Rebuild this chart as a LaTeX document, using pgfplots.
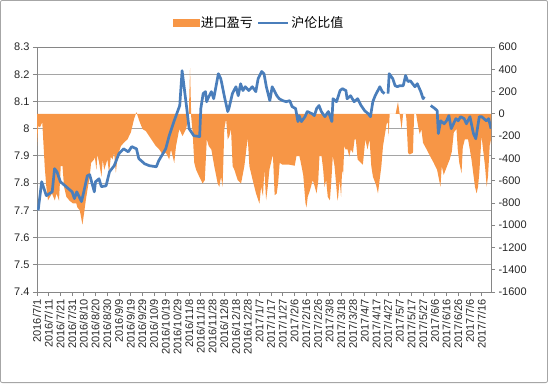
\documentclass[border=0pt]{standalone}
\usepackage{pgfplots}
\usepackage{pgfplotstable}
\pgfplotsset{compat=1.18}
\usepackage{fontspec}
\setmainfont{Liberation Sans}
\newfontfamily\cjk{Noto Sans CJK SC}
\definecolor{ora}{RGB}{247,150,70}
\definecolor{blu}{RGB}{74,126,187}
\definecolor{gridc}{RGB}{165,165,165}
\definecolor{axc}{RGB}{134,134,134}

\pgfplotstableread[row sep=\\]{
d v\\
1 7.700\\ 4 7.805\\ 8 7.754\\ 13 7.768\\ 15 7.853\\ 17 7.842\\ 20 7.805\\ 23 7.794\\ 27 7.779\\ 30 7.768\\
32 7.743\\ 34 7.768\\ 38 7.732\\ 40 7.768\\ 43 7.827\\ 45 7.831\\ 49 7.768\\ 50 7.805\\ 53 7.816\\ 55 7.787\\
59 7.790\\ 62 7.842\\ 66 7.864\\ 70 7.908\\ 74 7.926\\ 78 7.915\\ 81 7.934\\ 85 7.926\\ 87 7.890\\ 92 7.871\\
96 7.864\\ 102 7.860\\ 104 7.882\\ 110 7.926\\ 113 7.974\\ 117 8.026\\ 122 8.085\\ 124 8.213\\ 128 8.074\\ 130 8.000\\
134 7.974\\ 139 7.971\\ 140 8.074\\ 142 8.129\\ 144 8.136\\ 145 8.099\\ 146 8.110\\ 149 8.136\\ 151 8.110\\ 155 8.202\\
157 8.184\\ 158 8.165\\ 160 8.121\\ 163 8.063\\ 164 8.074\\ 167 8.129\\ 170 8.154\\ 172 8.121\\ 174 8.165\\ 176 8.140\\
178 8.154\\ 181 8.140\\ 184 8.154\\ 187 8.136\\ 189 8.184\\ 192 8.210\\ 194 8.202\\ 196 8.154\\ 199 8.103\\ 201 8.154\\
205 8.121\\ 207 8.110\\ 210 8.103\\ 213 8.099\\ 216 8.103\\ 218 8.081\\ 221 8.074\\ 223 8.026\\ 224 8.048\\ 226 8.026\\
229 8.044\\ 231 8.063\\ 235 8.055\\ 237 8.048\\ 239 8.074\\ 241 8.085\\ 243 8.063\\ 246 8.044\\ 249 8.063\\ 252 8.026\\
253 8.110\\ 256 8.099\\ 259 8.140\\ 261 8.147\\ 264 8.140\\ 265 8.110\\ 268 8.121\\ 271 8.099\\ 274 8.110\\ 277 8.085\\
280 8.066\\ 283 8.055\\ 285 8.044\\ 287 8.099\\ 289 8.121\\ 293 8.154\\ 295 8.136\\ 297 8.129\\ 298.5 nan\\
300 8.129\\ 301 8.202\\ 304 8.184\\ 306 8.158\\ 308 8.154\\ 310 8.158\\ 313 8.158\\ 315 8.195\\ 317 8.173\\ 319 8.176\\
323 8.154\\ 325 8.165\\ 328 8.136\\ 330 8.110\\ 331 8.118\\ 333 nan\\
336.5 8.085\\ 340 8.074\\ 342 8.066\\ 343 7.982\\ 345 8.029\\ 348 8.018\\ 350 8.029\\ 352 8.048\\ 354 8.000\\ 358 8.037\\
360 8.029\\ 362 8.044\\ 365 8.037\\ 367 8.018\\ 370 8.044\\ 373 7.982\\ 375 7.963\\ 378 8.044\\ 380 8.044\\ 384 8.029\\
386 8.037\\ 388 8.000\\
}\ratio

\pgfplotstableread[row sep=\\]{
d r\\
0 -290\\ 1 -110\\ 2.6 -120\\ 4.5 -75\\ 6.6 -475\\ 8 -660\\ 9.4 -777\\ 12.8 -715\\ 15.2 -777\\ 16.7 -715\\
18.8 -780\\ 20.3 -470\\ 21.8 -470\\ 23.1 -655\\ 25.1 -745\\ 27.8 -780\\ 30.8 -805\\ 33.6 -805\\ 34.5 -840\\ 36.6 -868\\
37.7 -930\\ 38.8 -995\\ 40.2 -895\\ 41.7 -777\\ 43.1 -685\\ 45.1 -560\\ 46.2 -440\\ 48.8 -410\\ 49.4 -385\\ 50.8 -503\\
51.6 -365\\ 53.1 -440\\ 55.1 -565\\ 56.2 -410\\ 57.4 -503\\ 58.8 -457\\ 60.2 -410\\ 61.6 -533\\ 63.1 -385\\ 64.5 -410\\
65.9 -350\\ 67.4 -530\\ 68.8 -385\\ 71.7 -290\\ 74.5 -256\\ 77.3 -230\\ 80.2 -167\\ 83.0 -45\\ 85.0 15\\ 87.3 -60\\
90.2 -137\\ 93.0 -155\\ 95.9 -200\\ 98.7 -245\\ 101.6 -290\\ 104.5 -320\\ 107.3 -365\\ 110.2 -350\\ 113.0 -410\\ 114.5 -320\\
117.3 -440\\ 118.8 -290\\ 121.6 -137\\ 124.4 -200\\ 127.3 -137\\ 129.7 -30\\ 130.8 410\\ 131.8 -30\\ 133.0 -165\\ 134.4 -440\\
135.9 -500\\ 138.7 -565\\ 141.5 -625\\ 143.4 -595\\ 145.1 -230\\ 146.8 -290\\ 149 -320\\ 151.5 -470\\ 154.4 -625\\ 155.8 -655\\
157.3 -565\\ 158.6 -655\\ 160.1 -137\\ 161.6 -45\\ 163.0 -230\\ 164.4 -200\\ 165.8 -137\\ 167.2 -470\\ 168.7 -503\\ 171.5 -595\\
174.4 -625\\ 177.2 -470\\ 180.1 -213\\ 181.5 -470\\ 184.3 -595\\ 187.2 -715\\ 190.1 -807\\ 191.5 -655\\ 193.1 -740\\ 194.3 -503\\
195.8 -777\\ 197.2 -655\\ 198.6 -503\\ 201.6 -365\\ 203.1 -731\\ 204.9 -715\\ 206.1 -620\\ 207.4 -440\\ 209.8 -457\\ 215.8 -457\\
220.3 -466\\ 221.7 -380\\ 224.3 -380\\ 225.8 -457\\ 227.5 -548\\ 229.5 -807\\ 230.3 -840\\ 231.4 -745\\ 232.9 -700\\ 235.7 -595\\
237.4 -655\\ 238.9 -715\\ 240.3 -610\\ 241.4 -380\\ 243.2 -380\\ 244.6 -503\\ 245.7 -655\\ 247.1 -595\\ 248.5 -745\\ 250.3 -777\\
251.4 -625\\ 252.8 -380\\ 254.3 -470\\ 256.8 -777\\ 257.4 -745\\ 258.6 -595\\ 259.9 -745\\ 260.7 -503\\ 261.6 -548\\ 262.6 -290\\
263.7 -320\\ 265.4 -320\\ 266.9 -385\\ 268.2 -320\\ 270.0 -350\\ 271.4 -230\\ 272.5 -230\\ 274.0 -410\\ 276.8 -440\\ 278.5 -457\\
280.6 -230\\ 282.5 -320\\ 284.2 -230\\ 285.7 -470\\ 287.1 -565\\ 289.8 -640\\ 291.4 -715\\ 292.8 -595\\ 294.3 -470\\ 295.7 -290\\
297.1 -200\\ 298.8 -90\\ 299.9 -75\\ 300.5 -200\\ 301.4 0\\ 306.5 0\\ 308.5 107\\ 309.9 0\\ 311.6 -137\\ 312.9 0\\
315.1 0\\ 315.7 -45\\ 317.1 -350\\ 318.5 -365\\ 321.3 -350\\ 322.3 0\\ 324.0 0\\ 325.6 -107\\ 327.1 -183\\ 328.5 -137\\
329.9 -260\\ 333.0 -320\\ 336.2 -385\\ 339.0 -440\\ 341.9 -503\\ 344.8 -655\\ 345.9 -470\\ 347.6 -548\\ 350.4 -470\\ 352.7 -410\\
354.5 -340\\ 356.2 -167\\ 358.5 -137\\ 359.6 -320\\ 360.9 -440\\ 362.8 -533\\ 363.9 -300\\ 365.6 -230\\ 368.4 -230\\ 369.9 -320\\
371.3 -410\\ 374.3 -655\\ 375.7 -715\\ 376.9 -655\\ 378.0 -530\\ 379.9 -200\\ 381.2 -320\\ 382.9 -470\\ 384.3 -655\\ 385.4 -565\\
387.2 -230\\ 388 -275\\
}\pl

\pgfplotsset{
  base/.style={
    scale only axis, width=454pt, height=245pt,
    at={(37pt,91pt)}, anchor=south west,
    xmin=0, xmax=388,
    every tick label/.append style={font=\fontsize{11}{12}\selectfont, text=black!85},
  },
}

\begin{document}
\begin{tikzpicture}
\draw[black!35, line width=0.8pt, rounded corners=2pt] (0.4pt,0.4pt) rectangle (547.6pt,382.6pt);

% left axis: grid, ticks, labels
\begin{axis}[base,
  ymin=7.4, ymax=8.3,
  ytick={7.4,7.5,7.6,7.7,7.8,7.9,8.0,8.1,8.2,8.3},
  yticklabels={7.4,7.5,7.6,7.7,7.8,7.9,8,8.1,8.2,8.3},
  xtick={0,10,...,380},
  xticklabels={2016/7/1,2016/7/11,2016/7/21,2016/7/31,2016/8/10,2016/8/20,2016/8/30,2016/9/9,2016/9/19,2016/9/29,2016/10/9,2016/10/19,2016/10/29,2016/11/8,2016/11/18,2016/11/28,2016/12/8,2016/12/18,2016/12/28,2017/1/7,2017/1/17,2017/1/27,2017/2/6,2017/2/16,2017/2/26,2017/3/8,2017/3/18,2017/3/28,2017/4/7,2017/4/17,2017/4/27,2017/5/7,2017/5/17,2017/5/27,2017/6/6,2017/6/16,2017/6/26,2017/7/6,2017/7/16},
  xticklabel style={rotate=90, anchor=east},
  xtick pos=left, ytick pos=left,
  tick align=outside, major tick length=4pt,
  tick style={axc, line width=0.8pt},
  ymajorgrids, grid style={gridc, line width=0.8pt},
  axis line style={axc, line width=0.8pt},
]
\end{axis}

% right axis: import profit/loss area
\begin{axis}[base,
  axis x line=none, axis y line*=right,
  axis line style={-, axc, line width=0.8pt},
  ymin=-1600, ymax=600,
  ytick={-1600,-1400,-1200,-1000,-800,-600,-400,-200,0,200,400,600},
  yticklabels={-1600,-1400,-1200,-1000,-800,-600,-400,-200,0,200,400,600},
  yticklabel style={anchor=west},
  tick align=outside, major tick length=4pt,
  tick style={axc, line width=0.8pt},
]
\addplot[fill=ora, draw=none] table[x=d, y=r] {\pl} \closedcycle;
\end{axis}

% ratio line on left scale
\begin{axis}[base, hide axis,
  ymin=7.4, ymax=8.3,
  unbounded coords=jump,
  legend columns=2,
  legend style={at={(0.489,1.098)}, anchor=center, draw=none, fill=none,
    font=\cjk\fontsize{13}{15}\selectfont,
    /tikz/every even column/.append style={column sep=2pt}},
]
\addlegendimage{legend image code/.code={\fill[ora] (0pt,-3.5pt) rectangle (26pt,3.5pt);}}
\addlegendentry{进口盈亏}
\addplot[blu, line width=2.7pt, line join=round,
  legend image code/.code={\draw[blu, line width=2.5pt] (0pt,0pt) -- (30pt,0pt);}]
  table[x=d, y=v] {\ratio};
\addlegendentry{沪伦比值}
\end{axis}
\end{tikzpicture}
\end{document}
